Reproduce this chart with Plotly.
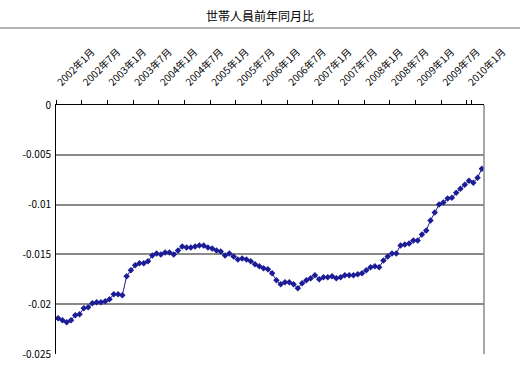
import plotly.graph_objects as go

years = [2002 + (i // 12) for i in range(100)]
months = [(i % 12) + 1 for i in range(100)]
categories = [f"{y}年{m}月" for y, m in zip(years, months)]

values = [
    -0.0214, -0.0216, -0.0218, -0.0216, -0.0211, -0.0210, -0.0204, -0.0203, -0.0199, -0.0198,
    -0.0198, -0.0197, -0.0195, -0.0190, -0.0190, -0.0191, -0.0172, -0.0166, -0.0161, -0.0159,
    -0.0159, -0.0157, -0.0151, -0.0149, -0.0150, -0.0148, -0.0148, -0.0150, -0.0146, -0.0142,
    -0.0143, -0.0143, -0.0142, -0.0141, -0.0141, -0.0143, -0.0144, -0.0146, -0.0147, -0.0151,
    -0.0149, -0.0152, -0.0155, -0.0154, -0.0155, -0.0157, -0.0160, -0.0162, -0.0164, -0.0165,
    -0.0169, -0.0176, -0.0180, -0.0178, -0.0178, -0.0180, -0.0184, -0.0179, -0.0176, -0.0174,
    -0.0171, -0.0175, -0.0173, -0.0173, -0.0172, -0.0174, -0.0173, -0.0171, -0.0171, -0.0171,
    -0.0170, -0.0169, -0.0166, -0.0163, -0.0162, -0.0163, -0.0156, -0.0152, -0.0149, -0.0149,
    -0.0141, -0.0140, -0.0139, -0.0136, -0.0136, -0.0130, -0.0126, -0.0116, -0.0108, -0.0100,
    -0.0098, -0.0094, -0.0093, -0.0088, -0.0084, -0.0080, -0.0076, -0.0078, -0.0073, -0.0064,
]

tick_labels = categories[::6]
y_ticks = [0, -0.005, -0.01, -0.015, -0.02, -0.025]
y_tick_text = ["0", "-0.005", "-0.01", "-0.015", "-0.02", "-0.025"]

FONT = "Noto Sans CJK JP, Noto Sans, sans-serif"

fig = go.Figure()
fig.add_trace(go.Scatter(
    x=categories, y=values, mode="lines+markers",
    line=dict(color="#1c1c96", width=1),
    marker=dict(color="#1c1c96", size=5, symbol="diamond"),
    showlegend=False,
))

fig.update_layout(
    width=520, height=369,
    margin=dict(l=56, r=36, t=105, b=15),
    paper_bgcolor="white", plot_bgcolor="white",
    font=dict(family=FONT, size=10, color="black"),
    title=dict(text="世帯人員前年同月比", x=0.5, xref="container", xanchor="center",
               y=1 - 17 / 369, yref="container", yanchor="middle",
               font=dict(family=FONT, size=12, color="black")),
    xaxis=dict(
        type="category", side="top", categoryorder="array", categoryarray=categories,
        range=[-0.5, 99.5], automargin=False,
        tickmode="array", tickvals=tick_labels, ticktext=tick_labels,
        tickangle=-45, tickson="boundaries", ticks="outside", ticklen=4,
        tickcolor="black", showgrid=False,
        showline=True, linecolor="black", linewidth=1,
        ticklabelstandoff=12,
        tickfont=dict(family=FONT, size=10, color="black"),
        zeroline=False,
    ),
    yaxis=dict(
        range=[-0.025, 0], tickmode="array", tickvals=y_ticks, ticktext=y_tick_text,
        automargin=False,
        showgrid=True, gridcolor="#8a8a8a", gridwidth=1.5,
        showline=True, linecolor="black", linewidth=1,
        ticks="", zeroline=False, ticklabelstandoff=2,
        tickfont=dict(family=FONT, size=10, color="black"),
    ),
    shapes=[
        dict(type="line", xref="paper", yref="paper", x0=1, x1=1, y0=0, y1=1,
             line=dict(color="#8a8a8a", width=1.5)),
        dict(type="line", xref="paper", yref="paper", x0=-56 / 428, x1=464 / 428,
             y0=1 + 77 / 249, y1=1 + 77 / 249, line=dict(color="#b4b4b4", width=2)),
    ],
)

fig.write_html(
    "out.html",
    config={"displayModeBar": False},
    post_script="document.body.style.margin='0';document.body.style.overflow='hidden';",
)
